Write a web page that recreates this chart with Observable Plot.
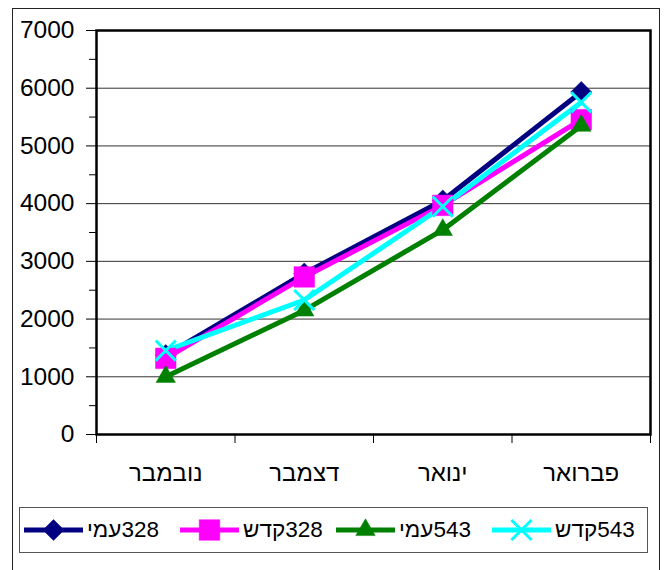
<!DOCTYPE html>
<html><head><meta charset="utf-8">
<script src="https://cdn.jsdelivr.net/npm/d3@7"></script>
<script src="https://cdn.jsdelivr.net/npm/@observablehq/plot@0.6"></script>
<style>
html,body{margin:0;padding:0;background:#fff;width:669px;height:570px;overflow:hidden;font-family:"Liberation Sans",Arial,sans-serif;}
#outer{position:absolute;left:12px;top:8px;width:648px;height:600px;border:1px solid #222;box-sizing:border-box;}
#chart{position:absolute;left:0;top:0;}
#legend{position:absolute;left:19px;top:507px;width:629px;height:46px;border:1px solid #555;box-sizing:border-box;display:flex;align-items:center;padding-left:4px;}
.item{width:156px;display:flex;align-items:center;flex:none;}
.item svg{flex:none;display:block;}
.item span{font-size:22.5px;margin-left:4px;color:#000;line-height:1;}
</style></head><body>
<div id="outer"></div>
<div id="chart"></div>
<div id="legend"></div>
<script>
// ---- data ----
const months = ["נובמבר", "דצמבר", "ינואר", "פברואר"];
const seriesNames = ["328עמי", "328קדש", "543עמי", "543קדש"];
const amy328 = [1375, 2790, 4055, 5935];
const kadesh328 = [1320, 2730, 3970, 5455];
const amy543 = [1000, 2150, 3545, 5350];
const kadesh543 = [1455, 2330, 3950, 5755];
const yTicks = [0, 1000, 2000, 3000, 4000, 5000, 6000, 7000];
const yMinorTicks = [500, 1500, 2500, 3500, 4500, 5500, 6500];

// ---- styles ----
const colors = ["#000080", "#FF00FF", "#008000", "#00FFFF"];
const plotSymbols = ["diamond2", "square", "triangle", "times"];
const d3Symbols = [d3.symbolDiamond2, d3.symbolSquare, d3.symbolTriangle, d3.symbolTimes];
const radii = [9.5, 11.6, 7.2, 9.2];

const valuesBySeries = [amy328, kadesh328, amy543, kadesh543];
const data = seriesNames.flatMap((s, k) =>
  valuesBySeries[k].map((v, i) => ({series: s, month: months[i], idx: i, value: v})));

const font = '"Liberation Sans", Arial, sans-serif';

const chart = Plot.plot({
  width: 669, height: 500,
  marginLeft: 96, marginRight: 19, marginTop: 30, marginBottom: 66,
  style: {background: "none", fontFamily: font, color: "#000"},
  x: {type: "linear", domain: [-0.5, months.length - 0.5], label: null},
  y: {domain: [0, 7000], label: null},
  color: {domain: seriesNames, range: colors},
  marks: [
    Plot.gridY({ticks: yTicks, stroke: "#333", strokeOpacity: 1, strokeWidth: 1}),
    Plot.axisY({ticks: yMinorTicks, tickSize: 7, tickFormat: () => "", stroke: "#000", label: null}),
    Plot.axisY({ticks: yTicks, tickSize: 10, tickPadding: 12, fontSize: 24.5, stroke: "#000", label: null, tickFormat: d => String(d)}),
    Plot.axisX({ticks: d3.range(-0.5, months.length, 1), tickSize: 9, tickFormat: () => "", stroke: "#000", label: null}),
    Plot.axisX({ticks: months.map((m, i) => i), tickSize: 0, tickPadding: 29, fontSize: 24, tickFormat: i => months[i], label: null}),
    Plot.frame({stroke: "#000", strokeWidth: 2.5}),
    Plot.lineY(data, {x: "idx", y: "value", z: "series", stroke: "series", strokeWidth: 5}),
    ...seriesNames.map((s, k) => Plot.dot(data.filter(d => d.series === s), {
      x: "idx", y: "value", symbol: plotSymbols[k], r: radii[k],
      fill: plotSymbols[k] === "times" ? "none" : colors[k],
      stroke: colors[k], strokeWidth: plotSymbols[k] === "times" ? 3 : 0.5
    }))
  ]
});
document.getElementById("chart").append(chart);

// ---- legend ----
const legend = d3.select("#legend");
seriesNames.forEach((s, k) => {
  const item = legend.append("div").attr("class", "item");
  const svg = item.append("svg").attr("width", 59).attr("height", 24);
  svg.append("line").attr("x1", 0).attr("x2", 59).attr("y1", 12).attr("y2", 12)
    .attr("stroke", colors[k]).attr("stroke-width", 5);
  const isTimes = plotSymbols[k] === "times";
  svg.append("path")
    .attr("transform", "translate(29.5,12)")
    .attr("d", d3.symbol(d3Symbols[k], radii[k] * radii[k] * Math.PI)())
    .attr("fill", isTimes ? "none" : colors[k])
    .attr("stroke", colors[k])
    .attr("stroke-width", isTimes ? 3 : 0.5);
  item.append("span").attr("dir", "rtl").text(s);
});
</script>
</body></html>
